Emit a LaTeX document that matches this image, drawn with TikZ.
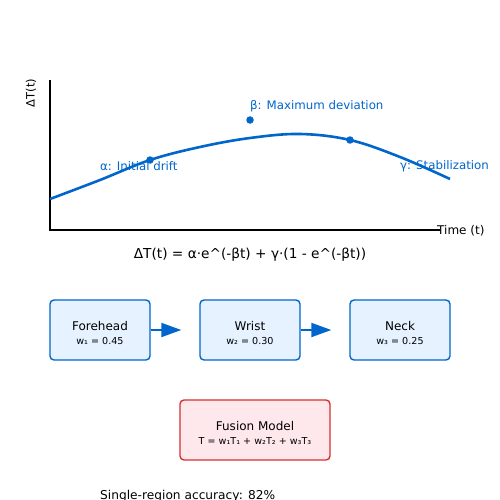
\documentclass[tikz,border=0pt]{standalone}
\usepackage{fontspec}
\setmainfont{DejaVu Sans}
\usetikzlibrary{arrows.meta,positioning}
\definecolor{CurveBlue}{RGB}{0,102,204}
\definecolor{BoxBlue}{RGB}{230,242,255}
\definecolor{FuseRed}{RGB}{214,48,49}
\definecolor{FusePink}{RGB}{255,232,236}
\newcommand{\wtext}[1]{{\fontsize{9.6}{11}\selectfont #1}}
\tikzset{
  region/.style={draw=CurveBlue,fill=BoxBlue,line width=1.4pt,rounded corners=4pt,minimum width=100pt,minimum height=60pt,align=center,font=\fontsize{12}{15}\selectfont},
  fusion/.style={draw=FuseRed,fill=FusePink,line width=1.4pt,rounded corners=4pt,minimum width=150pt,minimum height=60pt,align=center,font=\fontsize{12}{15}\selectfont},
  flow/.style={CurveBlue,line width=2pt,-{Triangle[length=20pt,width=14pt]},shorten >=18pt},
  param/.style={CurveBlue,font=\fontsize{11.8}{14}\selectfont,anchor=west,inner sep=0pt},
  marker/.style={circle,fill=CurveBlue,inner sep=0pt,minimum size=7.5pt}
}
\begin{document}
\begin{tikzpicture}[x=1pt,y=-1pt]
\useasboundingbox[fill=white] (0,0) rectangle (500,500);
% axes
\coordinate (origin) at (50,230);
\coordinate (ytop) at (50,80);
\coordinate (xend) at (440,230);
\draw[line width=1.5pt] (ytop) -- (origin) -- (xend);
\node[anchor=west,inner sep=0pt,font=\fontsize{12}{14}\selectfont] (tlab) at (437,231){Time (t)};
\node[rotate=90,inner sep=0pt,font=\fontsize{11.5}{14}\selectfont] (dlab) at (31,93){ΔT(t)};
% drift curve
\draw[CurveBlue,line width=2.6pt] plot[smooth,tension=.6] coordinates {(50,199) (100,180) (150,160) (200,147) (250,138) (300,134) (350,140) (400,157) (450,179)};
\node[marker] (pa) at (150,160){};
\node[marker] (pb) at (250,120){};
\node[marker] (pc) at (350,140){};
\node[param] (la) at (100,166){α: Initial drift};
\node[param] (lb) at (250,106){β: Maximum deviation};
\node[param] (lc) at (400,166){γ: Stabilization};
\node[font=\fontsize{13.7}{16}\selectfont] (eq) at (250,255){ΔT(t) = α·e\^{}(-βt) + γ·(1 - e\^{}(-βt))};
% regions
\node[region] (fh) at (100,330){\rule{0pt}{15pt}Forehead\\[-1pt]\wtext{w₁ = 0.45}};
\node[region] (wr) at (250,330){\rule{0pt}{15pt}Wrist\\[-1pt]\wtext{w₂ = 0.30}};
\node[region] (nk) at (400,330){\rule{0pt}{15pt}Neck\\[-1pt]\wtext{w₃ = 0.25}};
\draw[flow] (fh.east) -- (wr.west);
\draw[flow] (wr.east) -- (nk.west);
\node[fusion] (fm) at (255,430){\rule{0pt}{15pt}Fusion Model\\[-1pt]\wtext{T = w₁T₁ + w₂T₂ + w₃T₃}};
\node[anchor=base west,inner sep=0pt,font=\fontsize{12.2}{14}\selectfont] (acc) at (100,499.5){Single-region accuracy: 82\%};
\end{tikzpicture}
\end{document}
